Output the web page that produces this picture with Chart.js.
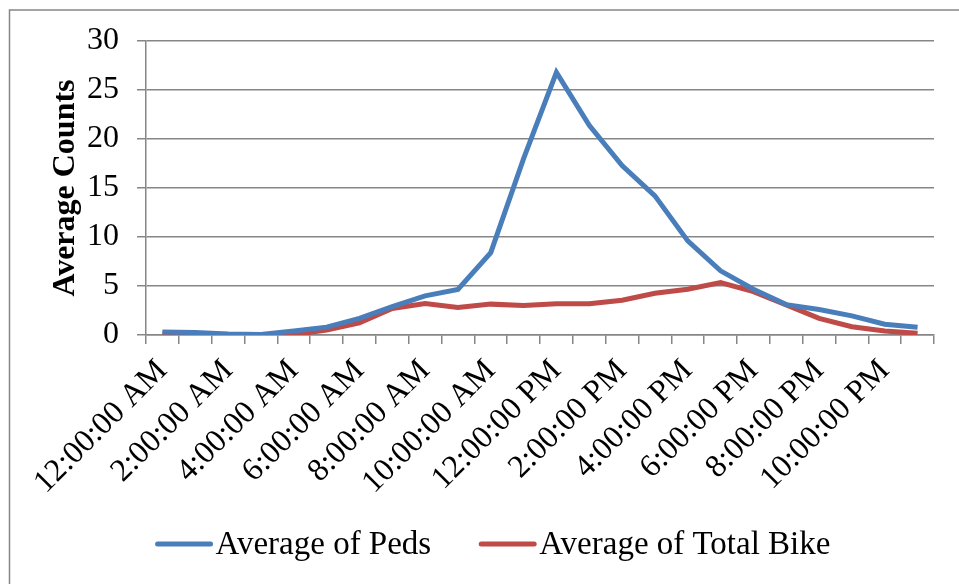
<!DOCTYPE html>
<html>
<head>
<meta charset="utf-8">
<script src="https://cdn.jsdelivr.net/npm/chart.js@4/dist/chart.umd.min.js"></script>
<style>
  html, body { margin: 0; padding: 0; background: #fff; }
  #wrap { width: 959px; height: 584px; position: relative; }
</style>
</head>
<body>
<div id="wrap"><canvas id="countsChart"></canvas></div>
<script>
const hours = [
  '12:00:00 AM', '1:00:00 AM', '2:00:00 AM', '3:00:00 AM', '4:00:00 AM', '5:00:00 AM',
  '6:00:00 AM', '7:00:00 AM', '8:00:00 AM', '9:00:00 AM', '10:00:00 AM', '11:00:00 AM',
  '12:00:00 PM', '1:00:00 PM', '2:00:00 PM', '3:00:00 PM', '4:00:00 PM', '5:00:00 PM',
  '6:00:00 PM', '7:00:00 PM', '8:00:00 PM', '9:00:00 PM', '10:00:00 PM', '11:00:00 PM'
];
const peds = [0.3, 0.25, 0.1, 0.05, 0.4, 0.8, 1.7, 2.9, 4.0, 4.65, 8.4, 18.0,
              26.8, 21.4, 17.3, 14.2, 9.6, 6.55, 4.67, 3.1, 2.6, 1.95, 1.1, 0.8];
const totalBike = [0.1, 0.07, 0.05, 0.02, 0.05, 0.5, 1.25, 2.7, 3.2, 2.8, 3.15, 3.0,
                   3.2, 3.2, 3.55, 4.26, 4.67, 5.35, 4.43, 3.07, 1.7, 0.85, 0.4, 0.17];
const yTicks = [0, 5, 10, 15, 20, 25, 30];

const serif = '"Liberation Serif", "Times New Roman", serif';
const axisGray = '#868686';

// light grey frame round the whole chart, like the Excel chart border
const frame = {
  id: 'frame',
  beforeDraw(chart) {
    const ctx = chart.ctx;
    ctx.save();
    ctx.fillStyle = '#fff';
    ctx.fillRect(0, 0, chart.width, chart.height);
    ctx.strokeStyle = axisGray;
    ctx.lineWidth = 1.5;
    ctx.strokeRect(9.5, 10, 1000, 1000);
    ctx.restore();
  }
};

// Excel style legend: swatch sits right against its text
const tightLegend = {
  id: 'tightLegend',
  afterDraw(chart) {
    const ctx = chart.ctx;
    const sw = 57, gap = 3, between = 48, cy = 544;
    ctx.save();
    ctx.font = '33px ' + serif;
    const items = chart.data.datasets.map(d => ({
      label: d.label, color: d.borderColor, w: ctx.measureText(d.label).width
    }));
    const total = items.reduce((a, it) => a + sw + gap + it.w, 0) + between * (items.length - 1);
    let x = 493 - total / 2;
    items.forEach(it => {
      ctx.strokeStyle = it.color;
      ctx.lineWidth = 5;
      ctx.lineCap = 'round';
      ctx.beginPath();
      ctx.moveTo(x + 2, cy);
      ctx.lineTo(x + sw - 2, cy);
      ctx.stroke();
      ctx.fillStyle = '#000';
      ctx.textBaseline = 'middle';
      ctx.fillText(it.label, x + sw + gap, cy + 1);
      x += sw + gap + it.w + between;
    });
    ctx.restore();
  }
};

new Chart(document.getElementById('countsChart'), {
  type: 'line',
  data: {
    labels: hours,
    datasets: [
      {
        label: 'Average of Peds',
        data: peds,
        borderColor: '#4a7ebb',
        backgroundColor: '#4a7ebb',
        borderWidth: 5,
        pointRadius: 0,
        tension: 0
      },
      {
        label: 'Average of Total Bike',
        data: totalBike,
        borderColor: '#be4b48',
        backgroundColor: '#be4b48',
        borderWidth: 5,
        pointRadius: 0,
        tension: 0
      }
    ]
  },
  options: {
    responsive: true,
    maintainAspectRatio: false,
    animation: false,
    layout: { padding: { left: 47, right: 25, top: 41, bottom: 65 } },
    plugins: {
      legend: { display: false },
      tooltip: { enabled: false }
    },
    scales: {
      x: {
        offset: true,
        grid: {
          offset: true,
          drawOnChartArea: false,
          drawTicks: true,
          tickLength: 9,
          color: axisGray,
          lineWidth: 1.5
        },
        border: { color: axisGray, width: 1.5 },
        ticks: {
          autoSkip: false,
          maxRotation: 45,
          minRotation: 45,
          padding: 8,
          color: '#000',
          font: { family: serif, size: 32 },
          callback: (v, i) => (i % 2 === 0 ? hours[i] : '')
        },
        afterFit: (s) => { s.height = 184; }
      },
      y: {
        min: 0,
        max: 30,
        afterBuildTicks: (s) => { s.ticks = yTicks.map(v => ({ value: v })); },
        grid: {
          color: axisGray,
          lineWidth: 1.5,
          tickLength: 9
        },
        border: { color: axisGray, width: 1.5 },
        ticks: {
          padding: 18,
          color: '#000',
          font: { family: serif, size: 32 }
        },
        title: {
          display: true,
          text: 'Average Counts',
          color: '#000',
          padding: { top: 0, bottom: 0 },
          font: { family: serif, size: 32, weight: 'bold' }
        },
        afterFit: (s) => { s.width = 99; }
      }
    }
  },
  plugins: [frame, tightLegend]
});
</script>
</body>
</html>
